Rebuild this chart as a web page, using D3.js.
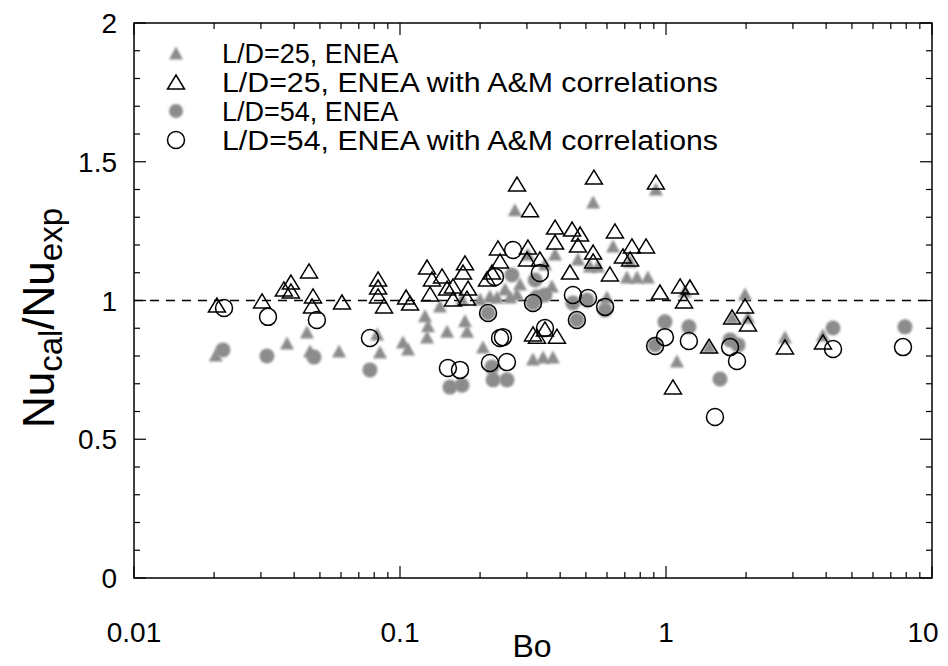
<!DOCTYPE html>
<html><head><meta charset="utf-8">
<script src="https://cdn.jsdelivr.net/npm/d3@7"></script>
<style>
body{margin:0;background:#fff}
svg{display:block}
text{font-family:'Liberation Sans',Arial,Helvetica,sans-serif;fill:#000}
</style>
</head><body>
<svg id="chart" width="948" height="666"></svg>
<script>
// ---- tick labels ----
const xTickValues = [0.01, 0.1, 1, 10];
const xTickLabels = ["0.01", "0.1", "1", "10"];
const yTickValues = [0, 0.5, 1, 1.5, 2];
const yTickLabels = ["0", "0.5", "1", "1.5", "2"];
const seriesNames = ["L/D=25, ENEA", "L/D=25, ENEA with A&M correlations", "L/D=54, ENEA", "L/D=54, ENEA with A&M correlations"];

// ---- L/D=25, ENEA (gray triangles) ----
const ld25EneaBo = [0.0203,0.0376,0.0447,0.0459,0.0590,0.0820,0.0841,0.1026,0.1072,0.1242,0.1274,0.1264,0.1413,0.1503,0.1755,0.1786,0.1711,0.2051,0.2704,0.3162,0.3451,0.3758,0.5321,0.9162,0.3828,0.4667,0.5176,0.5546,0.6324,0.7129,0.7780,0.8551,0.7328,1.178,0.5998,1.099,1.982,1.772,2.033,1.452,2.801,3.891,0.3027,0.3508,0.2178,0.2317,0.2592,0.2754,0.2483,0.2825,0.3724,0.200];
const ld25EneaRatio = [0.800,0.843,0.883,0.814,0.814,0.876,0.811,0.847,0.822,0.941,0.905,0.865,0.977,0.886,0.923,0.886,1.002,0.829,1.323,0.786,0.793,0.793,1.351,1.398,1.164,1.146,1.121,1.121,1.193,1.081,1.081,1.081,1.139,1.031,1.009,0.778,1.020,0.937,0.937,0.832,0.865,0.872,1.164,1.128,1.013,1.009,1.009,1.020,1.038,1.056,1.049,1.002];

// ---- L/D=25, ENEA with A&M correlations (open triangles) ----
const ld25AmBo = [0.0205,0.0303,0.0366,0.0389,0.0389,0.0455,0.0471,0.0467,0.0605,0.0827,0.0827,0.0827,0.0871,0.1054,0.1091,0.1264,0.1319,0.1297,0.1439,0.1503,0.1582,0.1755,0.1726,0.1803,0.1786,0.1582,0.2754,0.3083,0.2335,0.2377,0.2123,0.2218,0.3027,0.3002,0.3357,0.3828,0.4436,0.4753,0.6427,0.3828,0.4667,0.5321,0.7447,0.8414,0.6887,0.7328,0.4355,0.5321,0.6152,0.5358,0.9162,0.9487,1.130,1.230,1.169,0.3162,0.3508,0.3890,0.3273,1.062,1.982,1.772,2.033,1.452,2.801,3.891];
const ld25AmRatio = [0.980,0.995,1.038,1.063,1.031,1.103,1.013,0.977,0.991,1.074,1.045,1.013,0.977,1.009,0.987,1.117,1.074,1.020,1.085,1.041,1.049,1.132,1.099,1.041,1.005,1.002,1.416,1.323,1.186,1.139,1.074,1.099,1.189,1.146,1.146,1.261,1.254,1.236,1.247,1.207,1.196,1.171,1.193,1.193,1.157,1.146,1.099,1.139,1.092,1.441,1.423,1.027,1.049,1.045,0.995,0.876,0.894,0.868,0.868,0.685,0.977,0.937,0.912,0.832,0.829,0.847];

// ---- L/D=54, ENEA (gray circles) ----
const ld54EneaBo = [0.0216,0.0316,0.0475,0.0771,0.2636,0.2143,0.3162,0.3508,0.3273,0.1541,0.1711,0.2239,0.2524,0.2218,0.4467,0.5047,0.4624,0.5902,0.9908,1.219,0.9099,1.741,1.866,1.596,4.246,7.911,0.3221];
const ld54EneaRatio = [0.822,0.800,0.796,0.750,1.092,0.955,0.991,1.020,1.013,0.688,0.695,0.714,0.714,0.760,0.991,1.002,0.930,0.966,0.923,0.905,0.840,0.858,0.840,0.717,0.901,0.905,1.074];

// ---- L/D=54, ENEA with A&M correlations (open circles) ----
const ld54AmBo = [0.0218,0.0319,0.0487,0.0771,0.2661,0.2275,0.3357,0.2143,0.3162,0.2377,0.2438,0.2178,0.2524,0.1514,0.1681,0.4467,0.5093,0.5902,0.4624,0.3508,0.9908,1.219,0.9099,1.741,1.849,1.528,4.246,7.780];
const ld54AmRatio = [0.973,0.941,0.930,0.865,1.182,1.085,1.099,0.955,0.991,0.865,0.868,0.775,0.778,0.757,0.750,1.020,1.009,0.977,0.930,0.901,0.868,0.854,0.836,0.832,0.782,0.580,0.825,0.832];

const refLine = [0.01, 10];
const refValue = 1;

// ---- layout ----
const W = 948, H = 666;
const L = 134, R = 932, T = 23, B = 578;
const svg = d3.select("#chart");
const x = d3.scaleLog().domain([0.01, 10]).range([L, R]);
const y = d3.scaleLinear().domain([0, 2]).range([B, T]);

const triGray = "M0,-7.5 L7,5.5 L-7,5.5 Z";
const triOpen = "M0,-8 L8.5,6 L-8.5,6 Z";
const grayFill = "#8c8c8c";

const defs = svg.append("defs");
defs.append("filter").attr("id", "soft").attr("x", "-30%").attr("y", "-30%").attr("width", "160%").attr("height", "160%")
  .append("feGaussianBlur").attr("stdDeviation", 0.8);

// ---- frame ----
svg.append("rect").attr("x", L).attr("y", T).attr("width", R - L).attr("height", B - T)
  .attr("fill", "none").attr("stroke", "#000").attr("stroke-width", 1.5);

// ---- ticks ----
const tk = svg.append("g").attr("stroke", "#000").attr("stroke-width", 1.2);
const xMinor = x.ticks().filter(v => !xTickValues.some(m => Math.abs(m - v) / m < 1e-6));
const yAll = d3.range(0, 21).map(i => i / 10);
const yMinor = yAll.filter(v => !yTickValues.some(m => Math.abs(m - v) < 1e-6));
const majLen = 12, minLen = 6;
xTickValues.forEach(v => {
  tk.append("line").attr("x1", x(v)).attr("x2", x(v)).attr("y1", B).attr("y2", B - majLen);
  tk.append("line").attr("x1", x(v)).attr("x2", x(v)).attr("y1", T).attr("y2", T + majLen);
});
xMinor.forEach(v => {
  tk.append("line").attr("x1", x(v)).attr("x2", x(v)).attr("y1", B).attr("y2", B - minLen);
  tk.append("line").attr("x1", x(v)).attr("x2", x(v)).attr("y1", T).attr("y2", T + minLen);
});
yTickValues.forEach(v => {
  tk.append("line").attr("y1", y(v)).attr("y2", y(v)).attr("x1", L).attr("x2", L + majLen);
  tk.append("line").attr("y1", y(v)).attr("y2", y(v)).attr("x1", R).attr("x2", R - majLen);
});
yMinor.forEach(v => {
  tk.append("line").attr("y1", y(v)).attr("y2", y(v)).attr("x1", L).attr("x2", L + minLen);
  tk.append("line").attr("y1", y(v)).attr("y2", y(v)).attr("x1", R).attr("x2", R - minLen);
});

// ---- tick labels ----
svg.append("g").selectAll("text").data(xTickValues).join("text")
  .attr("x", d => Math.min(x(d), W - 25)).attr("y", 642).attr("text-anchor", "middle")
  .attr("font-size", 28).text((d, i) => xTickLabels[i]);
svg.append("g").selectAll("text").data(yTickValues).join("text")
  .attr("x", 117).attr("y", d => y(d) + 10).attr("text-anchor", "end")
  .attr("font-size", 28).text((d, i) => yTickLabels[i]);

// ---- axis titles ----
svg.append("text").attr("x", (L + R) / 2 - 1).attr("y", 657).attr("text-anchor", "middle")
  .attr("font-size", 32).text("Bo");
const yt = svg.append("text").attr("transform", "translate(54,318) rotate(-90)")
  .attr("text-anchor", "middle").attr("font-size", 44);
yt.append("tspan").text("Nu");
yt.append("tspan").attr("font-size", 33).attr("dy", 8).text("cal");
yt.append("tspan").attr("dy", -8).text("/Nu");
yt.append("tspan").attr("font-size", 33).attr("dy", 8).text("exp");

// ---- reference line ----
svg.append("line").attr("x1", x(refLine[0])).attr("x2", x(refLine[1]))
  .attr("y1", y(refValue)).attr("y2", y(refValue))
  .attr("stroke", "#000").attr("stroke-width", 1.3).attr("stroke-dasharray", "9,7");

// ---- points ----
const zip = (a, b) => a.map((v, i) => [v, b[i]]);
const plot = svg.append("g");
plot.append("g").selectAll("path").data(zip(ld25EneaBo, ld25EneaRatio)).join("path")
  .attr("d", triGray).attr("transform", d => `translate(${x(d[0])},${y(d[1])})`)
  .attr("fill", grayFill).attr("filter", "url(#soft)");
plot.append("g").selectAll("circle").data(zip(ld54EneaBo, ld54EneaRatio)).join("circle")
  .attr("cx", d => x(d[0])).attr("cy", d => y(d[1])).attr("r", 7.5)
  .attr("fill", grayFill).attr("filter", "url(#soft)");
plot.append("g").selectAll("path").data(zip(ld25AmBo, ld25AmRatio)).join("path")
  .attr("d", triOpen).attr("transform", d => `translate(${x(d[0])},${y(d[1])})`)
  .attr("fill", "none").attr("stroke", "#000").attr("stroke-width", 1.5);
plot.append("g").selectAll("circle").data(zip(ld54AmBo, ld54AmRatio)).join("circle")
  .attr("cx", d => x(d[0])).attr("cy", d => y(d[1])).attr("r", 8.5)
  .attr("fill", "none").attr("stroke", "#000").attr("stroke-width", 1.5);

// ---- legend ----
const legRows = [53, 82, 111, 140];
const lg = svg.append("g");
lg.append("path").attr("d", triGray).attr("transform", `translate(176,${legRows[0] + 1})`).attr("fill", grayFill).attr("filter", "url(#soft)");
lg.append("path").attr("d", triOpen).attr("transform", `translate(176,${legRows[1] + 1})`).attr("fill", "none").attr("stroke", "#000").attr("stroke-width", 1.5);
lg.append("circle").attr("cx", 176).attr("cy", legRows[2]).attr("r", 7).attr("fill", grayFill).attr("filter", "url(#soft)");
lg.append("circle").attr("cx", 176).attr("cy", legRows[3]).attr("r", 8.5).attr("fill", "none").attr("stroke", "#000").attr("stroke-width", 1.5);
lg.selectAll("text").data(seriesNames).join("text")
  .attr("x", 222).attr("y", (d, i) => legRows[i] + 10).attr("font-size", 27)
  .attr("textLength", (d, i) => i % 2 ? 496 : null)
  .attr("lengthAdjust", "spacingAndGlyphs").text(d => d);
</script>
</body></html>
